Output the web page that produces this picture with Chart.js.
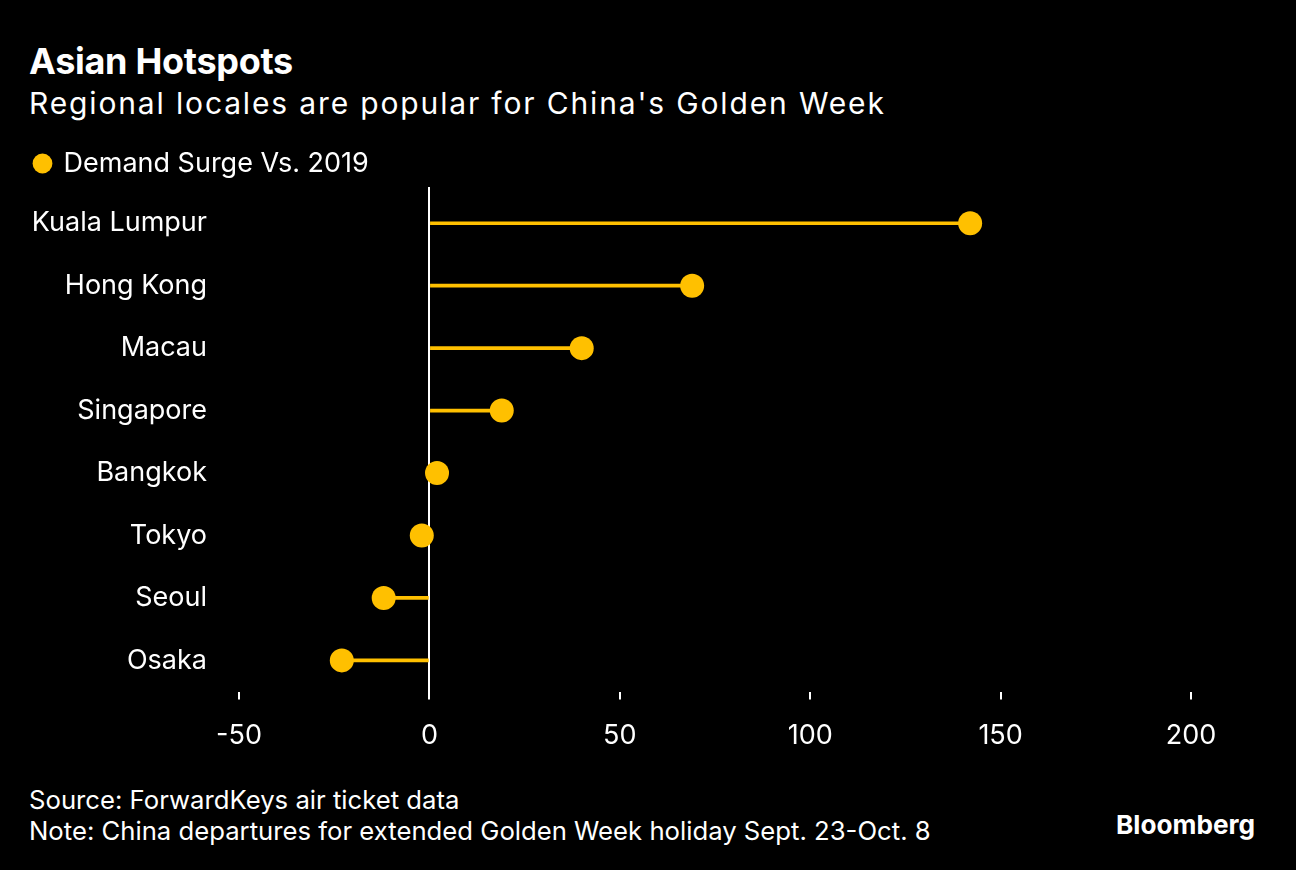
<!DOCTYPE html>
<html>
<head>
<meta charset="utf-8">
<script src="https://cdn.jsdelivr.net/npm/chart.js@4.4.0/dist/chart.umd.min.js"></script>
<style>
  html, body { margin: 0; padding: 0; background: #000; }
  body { width: 1296px; height: 870px; position: relative; overflow: hidden; font-family: Inter, "Liberation Sans", sans-serif; color: #fff; }
  #title { position: absolute; left: 29px; top: 39px; font-size: 36px; font-weight: bold; white-space: nowrap; letter-spacing: -0.3px; }
  #subtitle { position: absolute; left: 29px; top: 85px; font-size: 30px; white-space: nowrap; letter-spacing: 1.85px; }
  #source { position: absolute; left: 29px; top: 784px; font-size: 25.7px; line-height: 31px; white-space: nowrap; }
  #logo { position: absolute; left: 1116px; top: 809px; font-size: 26.2px; font-weight: bold; white-space: nowrap; }
  #wrap { position: absolute; left: 0; top: 120px; width: 1296px; height: 652px; }
</style>
</head>
<body>
<div id="title">Asian Hotspots</div>
<div id="subtitle">Regional locales are popular for China's Golden Week</div>
<div id="wrap"><canvas id="c"></canvas></div>
<div id="source">Source: ForwardKeys air ticket data<br>Note: China departures for extended Golden Week holiday Sept. 23-Oct. 8</div>
<div id="logo">Bloomberg</div>
<script>
const categories = ["Kuala Lumpur", "Hong Kong", "Macau", "Singapore", "Bangkok", "Tokyo", "Seoul", "Osaka"];
const demandSurge = [142, 69, 40, 19, 2, -2, -12, -23];
const xTicks = [-50, 0, 50, 100, 150, 200];
const seriesName = "Demand Surge Vs. 2019";
const gold = "#FFC000";

const zeroWhite = (ctx) => (ctx.tick && ctx.tick.value === 0) ? "#ffffff" : "rgba(0,0,0,0)";

new Chart(document.getElementById("c"), {
  data: {
    labels: categories,
    datasets: [
      {
        type: "line",
        label: seriesName,
        data: demandSurge,
        showLine: false,
        pointRadius: 12,
        pointHoverRadius: 12,
        pointBackgroundColor: gold,
        pointBorderWidth: 0,
        borderColor: gold,
        backgroundColor: gold,
        order: 0
      },
      {
        type: "bar",
        label: "stem",
        data: demandSurge,
        backgroundColor: gold,
        borderWidth: 0,
        barThickness: 3,
        order: 1
      }
    ]
  },
  options: {
    indexAxis: "y",
    responsive: true,
    maintainAspectRatio: false,
    animation: false,
    layout: { padding: { left: 15, right: 105, top: 10, bottom: 0 } },
    plugins: {
      tooltip: { enabled: false },
      legend: {
        display: true,
        align: "start",
        labels: {
          filter: (item) => item.text === seriesName,
          usePointStyle: true,
          pointStyle: "circle",
          boxWidth: 15,
          boxHeight: 14,
          padding: 20,
          color: "#fff",
          font: { family: "Inter", size: 27 }
        }
      }
    },
    scales: {
      x: {
        type: "linear",
        position: "bottom",
        min: -50,
        max: 200,
        afterBuildTicks: (axis) => { axis.ticks = xTicks.map(v => ({ value: v })); },
        border: { display: false },
        grid: {
          drawOnChartArea: true,
          drawTicks: true,
          tickLength: 8,
          lineWidth: 2,
          color: zeroWhite,
          tickColor: "#ffffff"
        },
        ticks: {
          color: "#fff",
          padding: 20,
          font: { family: "Inter", size: 27 }
        }
      },
      xTop: {
        type: "linear",
        position: "top",
        axis: "x",
        min: -50,
        max: 200,
        afterBuildTicks: (axis) => { axis.ticks = xTicks.map(v => ({ value: v })); },
        border: { display: false },
        grid: {
          drawOnChartArea: false,
          drawTicks: true,
          tickLength: 5,
          lineWidth: 2,
          color: zeroWhite,
          tickColor: zeroWhite
        },
        ticks: { display: false }
      },
      y: {
        type: "category",
        offset: true,
        afterFit: (axis) => { axis.width = 224; },
        border: { display: false },
        grid: { display: false, drawTicks: false },
        ticks: {
          color: "#fff",
          padding: 32,
          font: { family: "Inter", size: 27 }
        }
      }
    }
  }
});
</script>
</body>
</html>
